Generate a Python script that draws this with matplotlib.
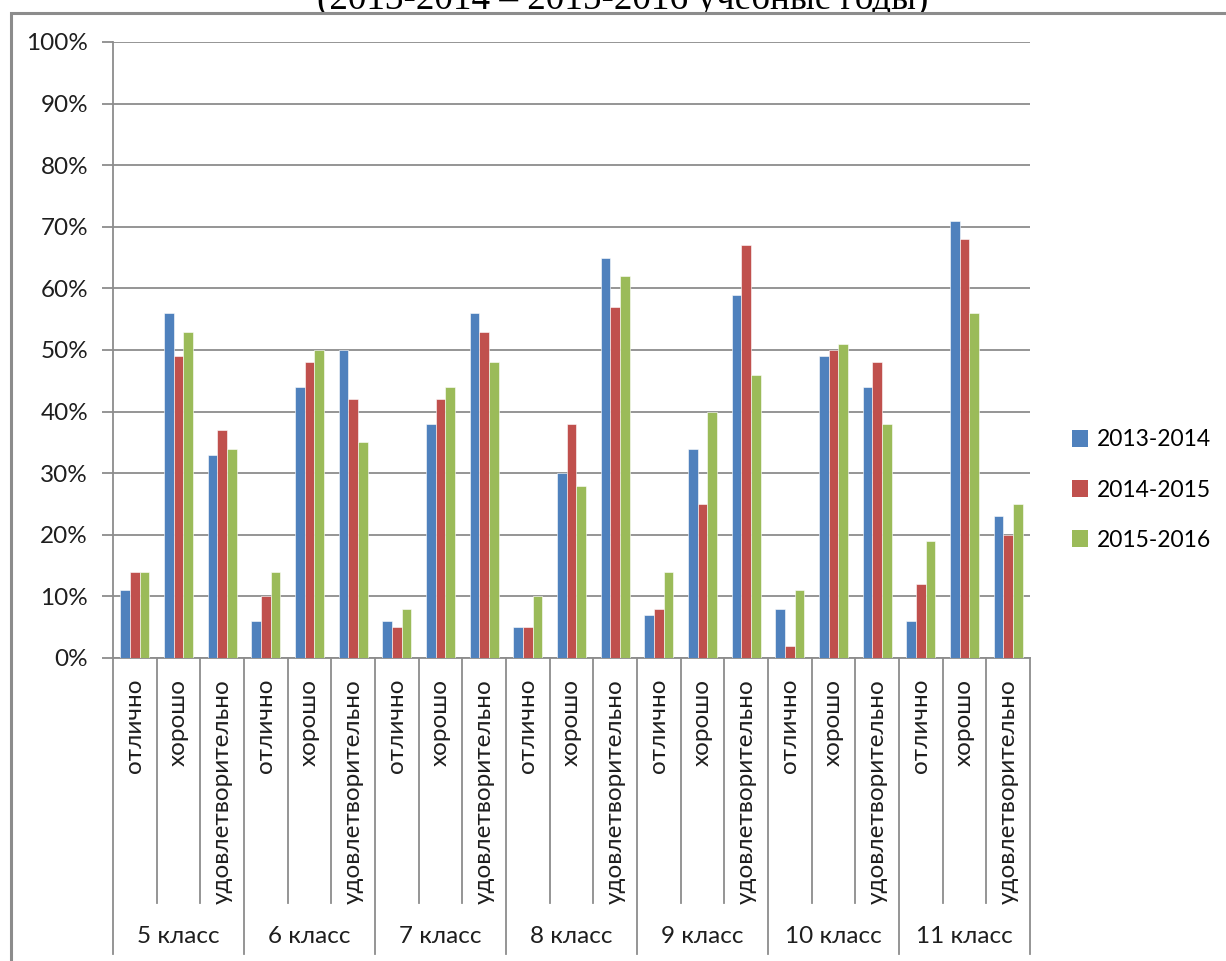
import numpy as np
import matplotlib.pyplot as plt
from matplotlib.patches import Patch, Rectangle
from matplotlib.lines import Line2D
from matplotlib.ticker import FuncFormatter

# data (in %)
classes = ["5 класс", "6 класс", "7 класс", "8 класс", "9 класс", "10 класс", "11 класс"]
grades = ["отлично", "хорошо", "удовлетворительно"]
years = ["2013-2014", "2014-2015", "2015-2016"]

y2013 = [11, 56, 33, 6, 44, 50, 6, 38, 56, 5, 30, 65, 7, 34, 59, 8, 49, 44, 6, 71, 23]
y2014 = [14, 49, 37, 10, 48, 42, 5, 42, 53, 5, 38, 57, 8, 25, 67, 2, 50, 48, 12, 68, 20]
y2015 = [14, 53, 34, 14, 50, 35, 8, 44, 48, 10, 28, 62, 14, 40, 46, 11, 51, 38, 19, 56, 25]

colors = ["#4F81BD", "#C0504D", "#9BBB59"]
grid_col = "#8C8C8C"
txt_col = "#1E1E1E"
FONT = "Lato"
FS = 17.5

W, H = 1226, 961
fig = plt.figure(figsize=(W / 100, H / 100), dpi=100)
ax = fig.add_axes([113 / W, 1 - 658 / H, 917 / W, 616 / H])
ax.set_zorder(2)

n = len(classes) * len(grades)
x = np.arange(n)
bw = 0.222
for i, (vals, c) in enumerate(zip([y2013, y2014, y2015], colors)):
    ax.bar(x + (i - 1) * bw, vals, width=bw, color=c, edgecolor="white", linewidth=0.4, zorder=3)

ax.set_xlim(-0.5, n - 0.5)
ax.set_ylim(0, 100)
ax.set_yticks(range(0, 101, 10))
ax.yaxis.set_major_formatter(FuncFormatter(lambda v, p: f"{v:.0f}%"))
ax.grid(axis="y", color=grid_col, linewidth=1.3, zorder=0)
ax.tick_params(axis="y", length=8, width=1.3, color=grid_col, pad=10, labelsize=FS)
for lab in ax.get_yticklabels():
    lab.set_family(FONT)
    lab.set_color(txt_col)

for s in ["top", "right"]:
    ax.spines[s].set_visible(False)
for s in ["left", "bottom"]:
    ax.spines[s].set_color(grid_col)
    ax.spines[s].set_linewidth(1.3)

# category labels
ax.set_xticks(x)
ax.set_xticklabels(grades * len(classes), rotation=90, va="top", ha="center",
                   fontsize=FS, family=FONT, color=txt_col)
ax.tick_params(axis="x", length=0, pad=15)

# separators for multi-level axis
tr = ax.get_xaxis_transform()
for k in range(n + 1):
    xx = k - 0.5
    y_end = -0.48 if k % 3 == 0 else -0.398
    ax.add_line(Line2D([xx, xx], [0, y_end], transform=tr, color=grid_col,
                       linewidth=1.3, clip_on=False))
for g, name in enumerate(classes):
    ax.text(g * 3 + 1, -0.452, name, transform=tr, ha="center", va="center",
            fontsize=FS, family=FONT, color=txt_col)

# legend
handles = [Patch(facecolor=c, edgecolor="none") for c in colors]
fig.legend(handles, years, loc="center left", bbox_to_anchor=(1051 / W, 1 - 490 / H),
           frameon=False, prop={"family": FONT, "size": 16.5}, handlelength=0.72,
           handleheight=0.72, handletextpad=0.36, labelspacing=1.27)

# title, mostly hidden behind the chart area
fig.text(623 / W, 1 - 8.5 / H, "(2013-2014 – 2015-2016 учебные годы)", ha="center",
         va="baseline", family="Liberation Serif", fontsize=26.7, color="black", zorder=0.5)

# chart area (white, gray border, runs off the right and bottom edges)
fig.add_artist(Rectangle((11 / W, -0.05), 1.0, 1.05 - 13 / H, transform=fig.transFigure,
                         facecolor="white", edgecolor=grid_col, linewidth=2.2, zorder=1))

fig.savefig("out.png", dpi=100)
